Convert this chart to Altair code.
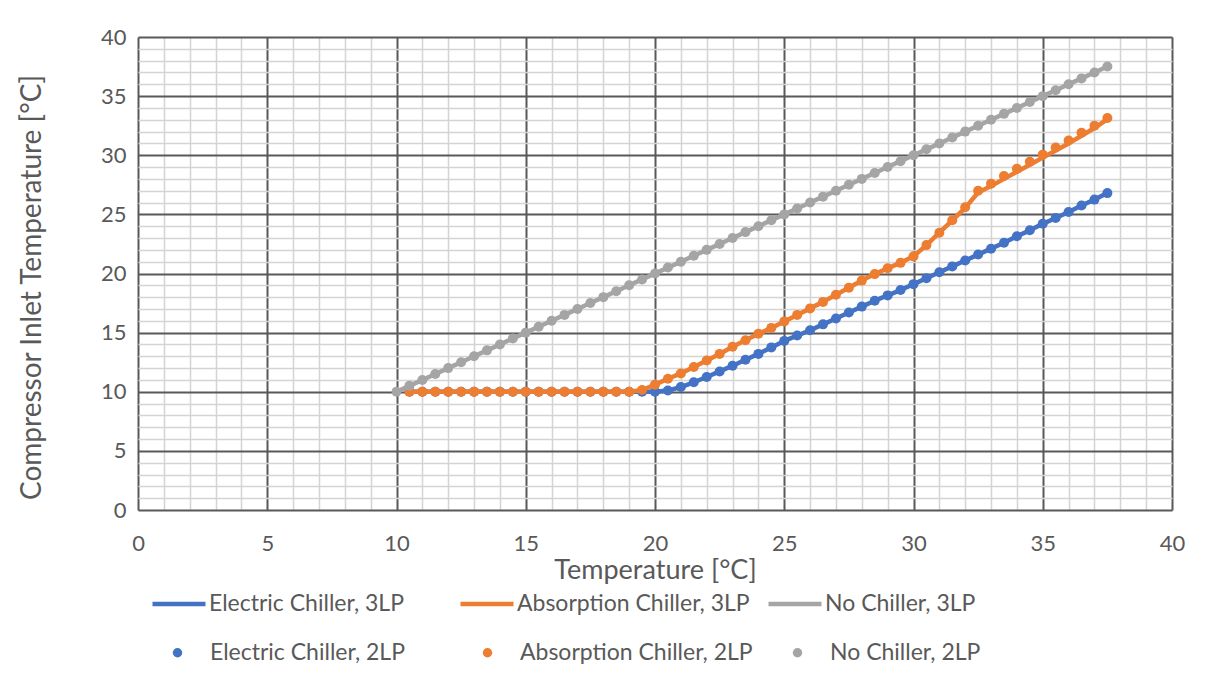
import altair as alt
import pandas as pd

# ---- data ----
x_no_chiller = [10.0, 10.5, 11.0, 11.5, 12.0, 12.5, 13.0, 13.5, 14.0, 14.5,
                15.0, 15.5, 16.0, 16.5, 17.0, 17.5, 18.0, 18.5, 19.0, 19.5,
                20.0, 20.5, 21.0, 21.5, 22.0, 22.5, 23.0, 23.5, 24.0, 24.5,
                25.0, 25.5, 26.0, 26.5, 27.0, 27.5, 28.0, 28.5, 29.0, 29.5,
                30.0, 30.5, 31.0, 31.5, 32.0, 32.5, 33.0, 33.5, 34.0, 34.5,
                35.0, 35.5, 36.0, 36.5, 37.0, 37.5]
x_chiller = [10.5, 11.0, 11.5, 12.0, 12.5, 13.0, 13.5, 14.0, 14.5,
             15.0, 15.5, 16.0, 16.5, 17.0, 17.5, 18.0, 18.5, 19.0, 19.5,
             20.0, 20.5, 21.0, 21.5, 22.0, 22.5, 23.0, 23.5, 24.0, 24.5,
             25.0, 25.5, 26.0, 26.5, 27.0, 27.5, 28.0, 28.5, 29.0, 29.5,
             30.0, 30.5, 31.0, 31.5, 32.0, 32.5, 33.0, 33.5, 34.0, 34.5,
             35.0, 35.5, 36.0, 36.5, 37.0, 37.5]

electric_2lp = [10.0, 10.0, 10.0, 10.0, 10.0, 10.0, 10.0, 10.0, 10.0, 10.0,
                10.0, 10.0, 10.0, 10.0, 10.0, 10.0, 10.0, 10.0, 10.0, 10.0,
                10.1, 10.4, 10.8, 11.25, 11.72, 12.2, 12.7, 13.2, 13.75, 14.3,
                14.75, 15.2, 15.7, 16.2, 16.7, 17.2, 17.7, 18.15, 18.6, 19.1,
                19.6, 20.1, 20.6, 21.1, 21.6, 22.1, 22.6, 23.15, 23.65, 24.2,
                24.7, 25.2, 25.75, 26.25, 26.8]
electric_3lp = [10.0, 10.0, 10.0, 10.0, 10.0, 10.0, 10.0, 10.0, 10.0, 10.0,
                10.0, 10.0, 10.0, 10.0, 10.0, 10.0, 10.0, 10.0, 10.0, 10.0,
                10.1, 10.4, 10.8, 11.25, 11.72, 12.2, 12.7, 13.2, 13.75, 14.3,
                14.75, 15.2, 15.7, 16.2, 16.7, 17.2, 17.7, 18.15, 18.6, 19.1,
                19.6, 20.1, 20.6, 21.1, 21.6, 22.1, 22.6, 23.15, 23.65, 24.2,
                24.7, 25.2, 25.75, 26.25, 26.8]
absorption_2lp = [10.0, 10.0, 10.0, 10.0, 10.0, 10.0, 10.0, 10.0, 10.0, 10.0,
                  10.0, 10.0, 10.0, 10.0, 10.0, 10.0, 10.0, 10.0, 10.15, 10.6,
                  11.1, 11.55, 12.1, 12.65, 13.2, 13.8, 14.35, 14.9, 15.4, 15.95,
                  16.5, 17.05, 17.6, 18.2, 18.8, 19.4, 19.95, 20.45, 20.9, 21.45,
                  22.4, 23.45, 24.5, 25.6, 27.0, 27.6, 28.25, 28.85, 29.45, 30.05,
                  30.65, 31.25, 31.9, 32.5, 33.15]
absorption_3lp = [10.0, 10.0, 10.0, 10.0, 10.0, 10.0, 10.0, 10.0, 10.0, 10.0,
                  10.0, 10.0, 10.0, 10.0, 10.0, 10.0, 10.0, 10.0, 10.15, 10.6,
                  11.1, 11.55, 12.1, 12.65, 13.2, 13.8, 14.35, 14.9, 15.4, 15.95,
                  16.5, 17.05, 17.6, 18.2, 18.8, 19.4, 19.95, 20.45, 20.9, 21.45,
                  22.4, 23.45, 24.5, 25.55, 26.85, 27.4, 28.0, 28.6, 29.2, 29.8,
                  30.4, 31.0, 31.65, 32.3, 33.05]
no_chiller_2lp = [10.0, 10.5, 11.0, 11.5, 12.0, 12.5, 13.0, 13.5, 14.0, 14.5,
                  15.0, 15.5, 16.0, 16.5, 17.0, 17.5, 18.0, 18.5, 19.0, 19.5,
                  20.0, 20.5, 21.0, 21.5, 22.0, 22.5, 23.0, 23.5, 24.0, 24.5,
                  25.0, 25.5, 26.0, 26.5, 27.0, 27.5, 28.0, 28.5, 29.0, 29.5,
                  30.0, 30.5, 31.0, 31.5, 32.0, 32.5, 33.0, 33.5, 34.0, 34.5,
                  35.0, 35.5, 36.0, 36.5, 37.0, 37.5]
no_chiller_3lp = list(no_chiller_2lp)

line_names = ["Electric Chiller, 3LP", "Absorption Chiller, 3LP", "No Chiller, 3LP"]
point_names = ["Electric Chiller, 2LP", "Absorption Chiller, 2LP", "No Chiller, 2LP"]
colors = ["#4472C4", "#ED7D31", "#A5A5A5"]

line_sets = [(x_chiller, electric_3lp), (x_chiller, absorption_3lp), (x_no_chiller, no_chiller_3lp)]
point_sets = [(x_chiller, electric_2lp), (x_chiller, absorption_2lp), (x_no_chiller, no_chiller_2lp)]

line_rows, point_rows = [], []
for name, (xs, ys) in zip(line_names, line_sets):
    for a, b in zip(xs, ys):
        line_rows.append({"x": a, "y": b, "series": name})
for name, (xs, ys) in zip(point_names, point_sets):
    for a, b in zip(xs, ys):
        point_rows.append({"x": a, "y": b, "series2": name})
lines_df = pd.DataFrame(line_rows)
points_df = pd.DataFrame(point_rows)

FONT = "Lato"
TXT = "#595959"
grid_vals = list(range(0, 41))
grid_color = {"condition": {"test": "datum.value % 5 === 0", "value": "#595959"}, "value": "#d4d4d4"}
grid_width = {"condition": {"test": "datum.value % 5 === 0", "value": 2}, "value": 1.5}

x_enc = alt.X("x:Q", scale=alt.Scale(domain=[0, 40], nice=False),
              axis=alt.Axis(values=grid_vals, labelExpr="datum.value % 5 === 0 ? datum.label : ''",
                            grid=True, gridColor=grid_color, gridWidth=grid_width,
                            ticks=False, domain=False, labelFontSize=22, labelColor=TXT,
                            labelFont=FONT, labelPadding=23, title="Temperature [°C]",
                            titleFontSize=27, titleFont=FONT, titleColor=TXT,
                            titleFontWeight="normal", titlePadding=3, labelFlush=False))
y_enc = alt.Y("y:Q", scale=alt.Scale(domain=[0, 40], nice=False),
              axis=alt.Axis(values=grid_vals, labelExpr="datum.value % 5 === 0 ? datum.label : ''",
                            grid=True, gridColor=grid_color, gridWidth=grid_width,
                            ticks=False, domain=False, labelFontSize=22, labelColor=TXT,
                            labelFont=FONT, labelPadding=12,
                            title="Compressor Inlet Temperature [°C]",
                            titleFontSize=28, titleFont=FONT, titleColor=TXT,
                            titleFontWeight="normal", titlePadding=54, titleY=250))

line_legend = alt.Legend(title=None, orient="none", legendX=12, legendY=538, direction="horizontal",
                         columns=3, gridAlign="all", symbolType="stroke", symbolSize=2809,
                         symbolStrokeWidth=4.5, labelFontSize=23, labelColor=TXT, labelFont=FONT,
                         labelOffset=1, columnPadding=9, labelLimit=400, padding=0)
point_legend = alt.Legend(title=None, orient="none", legendX=28, legendY=604, direction="horizontal",
                          columns=3, gridAlign="all", symbolType="circle", symbolSize=90,
                          symbolStrokeWidth=0, labelFontSize=23, labelColor=TXT, labelFont=FONT,
                          labelOffset=21, columnPadding=33, labelLimit=400, padding=0)

stroke_enc = alt.Stroke("series:N", scale=alt.Scale(domain=line_names, range=colors), legend=line_legend)
fill_enc = alt.Fill("series2:N", scale=alt.Scale(domain=point_names, range=colors), legend=point_legend)

layers = []
for ln, pn in zip(line_names, point_names):
    layers.append(
        alt.Chart(lines_df).transform_filter(alt.datum.series == ln)
        .mark_line(strokeWidth=4.5, strokeJoin="round", strokeCap="round")
        .encode(x=x_enc, y=y_enc, stroke=stroke_enc, order="x:Q")
    )
    layers.append(
        alt.Chart(points_df).transform_filter(alt.datum.series2 == pn)
        .mark_circle(size=100, opacity=1)
        .encode(x=x_enc, y=y_enc, fill=fill_enc)
    )

chart = alt.layer(*layers).properties(
    width=1034, height=473,
    autosize=alt.AutoSizeParams(type="none"),
    padding={"left": 130, "top": 29, "right": 30, "bottom": 160},
    background="white",
).configure_view(stroke=None)

chart.save("out.html", embed_options={"renderer": "svg", "actions": False})
